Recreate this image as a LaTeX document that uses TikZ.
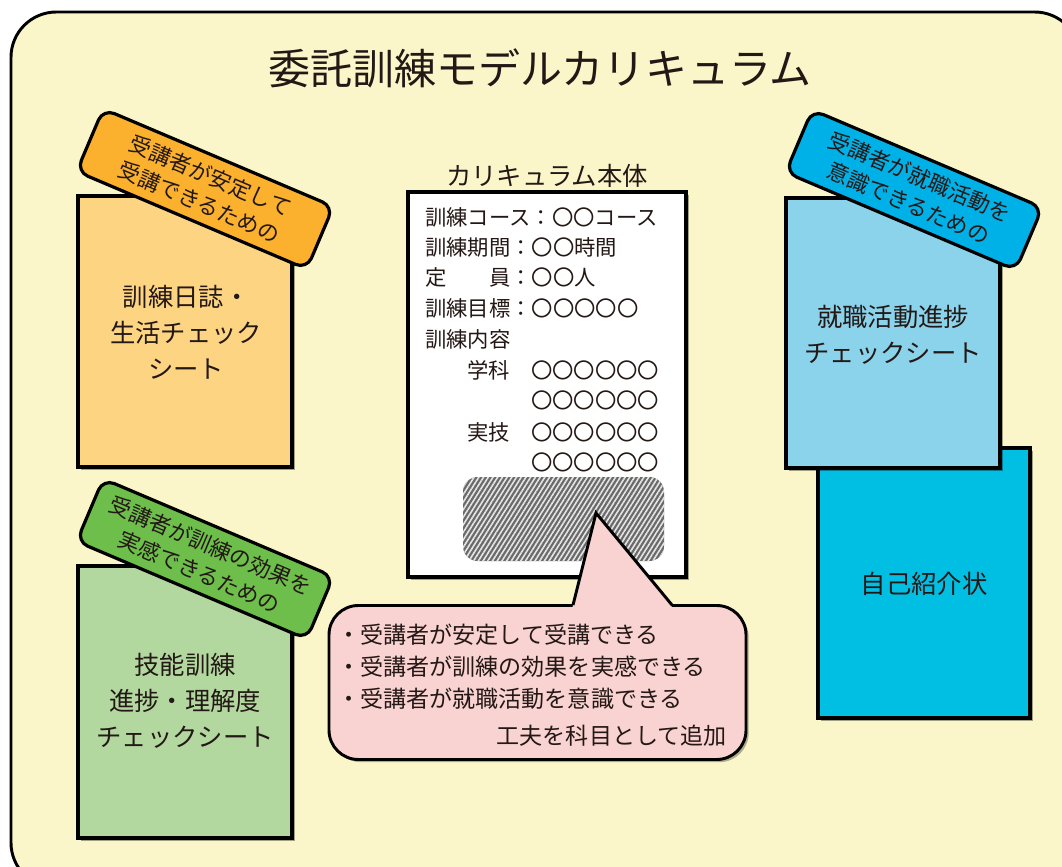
\documentclass[tikz,border=0pt]{standalone}
\usepackage{fontspec}
\setmainfont{Noto Sans CJK JP}
\usetikzlibrary{shadows,patterns.meta}
\definecolor{bgy}{HTML}{FAF6C9}
\definecolor{orangecard}{HTML}{FDD482}
\definecolor{orangetag}{HTML}{FBB12E}
\definecolor{greentag}{HTML}{6DBE4B}
\definecolor{greencard}{HTML}{B2D8A0}
\definecolor{bluetag}{HTML}{00B1E7}
\definecolor{lightbluecard}{HTML}{8BD3EA}
\definecolor{cyancard}{HTML}{00BFE3}
\definecolor{bubblepink}{HTML}{F9D3D1}
\definecolor{txt}{HTML}{231815}
\definecolor{hatchgray}{HTML}{6A6A6A}
\begin{document}
\begin{tikzpicture}[x=0.75pt,y=-0.75pt,
  every node/.style={text=txt},
  card/.style={draw=black, line width=2.4pt, inner sep=0pt,
    drop shadow={shadow xshift=2.5pt, shadow yshift=-2.5pt, opacity=0.35, fill=black}},
  cardtext/.style={align=center, inner sep=0pt, font=\fontsize{19}{27}\selectfont},
  tag/.style={draw=black, line width=2.4pt, rounded corners=9pt, rotate=-23,
    minimum width=187.5pt, minimum height=51pt, align=center, inner sep=0pt,
    font=\fontsize{16.3}{21.5}\selectfont},
  docline/.style={anchor=west, inner sep=0pt, font=\fontsize{16}{18}\selectfont},
  bubbleline/.style={anchor=west, inner sep=0pt, font=\fontsize{17.3}{19}\selectfont}]
\useasboundingbox (0,0) rectangle (1062,866);
\clip (0,0) rectangle (1062,866);
\fill[white] (0,0) rectangle (1062,866);
% background panel
\draw[fill=bgy, line width=2.2pt, rounded corners=34pt] (11,12) rectangle (1080,888);
\node[font=\fontsize{31.5}{36}\selectfont] (title) at (540,68) {委託訓練モデルカリキュラム};

% left top card
\node[card, fill=orangecard, minimum width=214*0.75pt, minimum height=271*0.75pt] (nisshi) at (185,331.5) {};
\node[cardtext] (nisshiT) at (186,332) {訓練日誌・\\生活チェック\\シート};
\node[tag, fill=orangetag] (tagA) at (205,189) {受講者が安定して\\受講できるための};

% left bottom card
\node[card, fill=greencard, minimum width=214*0.75pt, minimum height=272*0.75pt] (ginou) at (185,702) {};
\node[cardtext] (ginouT) at (185,701) {技能訓練\\進捗・理解度\\チェックシート};
\node[tag, fill=greentag] (tagB) at (205,559) {受講者が訓練の効果を\\実感できるための};

% right cards
\node[card, fill=cyancard, minimum width=212*0.75pt, minimum height=270*0.75pt] (jiko) at (924,583) {};
\node[cardtext] (jikoT) at (924,584) {自己紹介状};
\node[card, fill=lightbluecard, minimum width=214*0.75pt, minimum height=270*0.75pt] (shushoku) at (893,333) {};
\node[cardtext] (shushokuT) at (893,335) {就職活動進捗\\チェックシート};
\node[tag, fill=bluetag] (tagC) at (914,190) {受講者が就職活動を\\意識できるための};

% curriculum document
\node[card, fill=white, minimum width=278*0.75pt, minimum height=385*0.75pt] (doc) at (547,384.5) {};
\node[font=\fontsize{19}{22}\selectfont, inner sep=0pt] (docT) at (547,176) {カリキュラム本体};
\node[docline] (d1) at (425,217) {訓練コース：〇〇コース};
\node[docline] (d2) at (425,247) {訓練期間：〇〇時間};
\node[docline] (d3) at (425,277) {定　　員：〇〇人};
\node[docline] (d4) at (425,308) {訓練目標：〇〇〇〇〇};
\node[docline] (d5) at (425,339) {訓練内容};
\node[docline] (d6) at (467,370) {学科};
\node[docline] (d6c) at (531,370) {〇〇〇〇〇〇};
\node[docline] (d7c) at (531,400) {〇〇〇〇〇〇};
\node[docline] (d8) at (467,432) {実技};
\node[docline] (d8c) at (531,432) {〇〇〇〇〇〇};
\node[docline] (d9c) at (531,462) {〇〇〇〇〇〇};
\node[fill=hatchgray, rounded corners=11pt, minimum width=201*0.75pt, minimum height=84*0.75pt, inner sep=0pt,
  postaction={pattern={Lines[angle=58,distance=3pt,line width=1.2pt]}, pattern color=white!80!gray}] (hatch) at (563.5,519) {};

% speech bubble
\node[draw=black, line width=2.2pt, fill=bubblepink, rounded corners=22pt, minimum width=417*0.75pt, minimum height=154*0.75pt, inner sep=0pt,
  drop shadow={shadow xshift=2pt, shadow yshift=-2pt, opacity=0.3, fill=black}] (bubble) at (537.5,682.5) {};
\coordinate (tip) at (596,513);
\coordinate (baseL) at (573,605);
\coordinate (baseR) at (672,605);
\fill[bubblepink] (572.3,608) -- (tip) -- (672.8,608) -- cycle;
\draw[line width=2.2pt, line join=miter] (baseL) -- (tip) -- (baseR);
\node[bubbleline] (b1) at (337,635) {・受講者が安定して受講できる};
\node[bubbleline] (b2) at (337,667) {・受講者が訓練の効果を実感できる};
\node[bubbleline] (b3) at (337,699) {・受講者が就職活動を意識できる};
\node[bubbleline, anchor=east] (b4) at (727,736) {工夫を科目として追加};
\end{tikzpicture}
\end{document}
